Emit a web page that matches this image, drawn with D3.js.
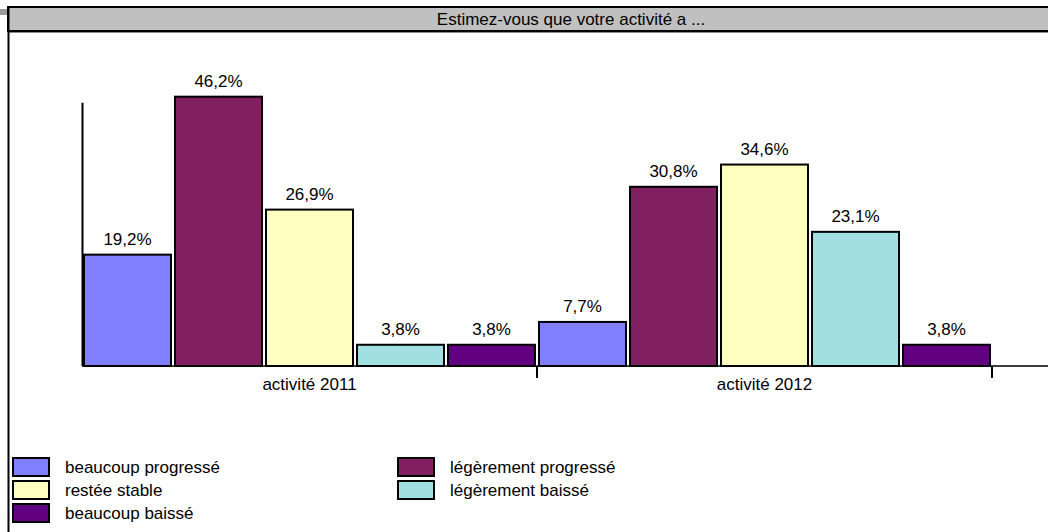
<!DOCTYPE html>
<html><head><meta charset="utf-8">
<script src="https://cdn.jsdelivr.net/npm/d3@7"></script>
<style>html,body{margin:0;padding:0;background:#fff;}svg{display:block;font-family:Arial,"Liberation Sans",sans-serif;}</style>
</head><body>
<svg id="c" width="1048" height="532"></svg>
<script>
const title = "Estimez-vous que votre activité a ...";
const categories = ["activité 2011", "activité 2012"];
const seriesNames = ["beaucoup progressé", "légèrement progressé", "restée stable", "légèrement baissé", "beaucoup baissé"];
const seriesColors = ["#8080FF", "#802060", "#FFFFC0", "#A0E0E0", "#600080"];
const values2011 = [19.2, 46.2, 26.9, 3.8, 3.8];
const values2012 = [7.7, 30.8, 34.6, 23.1, 3.8];
const valuesByCategory = [values2011, values2012];
const yMax = 45;

const svg = d3.select("#c");
const fmt = v => d3.format(".1f")(v).replace(".", ",") + "%";

// frame
svg.append("rect").attr("x", 0).attr("y", 9).attr("width", 8).attr("height", 6).attr("fill", "#999");
svg.append("rect").attr("x", 8).attr("y", 7).attr("width", 1100).attr("height", 24)
  .attr("fill", "#C0C0C0").attr("stroke", "#000").attr("stroke-width", 2);
svg.append("line").attr("x1", 8).attr("x2", 1048).attr("y1", 32.5).attr("y2", 32.5).attr("stroke", "#888").attr("stroke-width", 1);
svg.append("line").attr("x1", 8.5).attr("x2", 8.5).attr("y1", 6).attr("y2", 532).attr("stroke", "#000").attr("stroke-width", 2);
svg.append("text").attr("x", 571).attr("y", 25).attr("text-anchor", "middle")
  .attr("font-size", 17).attr("fill", "#000").text(title);

const x0 = d3.scaleBand().domain(categories).range([82, 992]).paddingInner(0).paddingOuter(0);
const x1 = d3.scaleBand().domain(seriesNames).range([0, x0.bandwidth()]);
const y = d3.scaleLinear().domain([0, yMax]).range([366, 102.7]);

// bars
categories.forEach((cat, ci) => {
  const g = svg.append("g");
  seriesNames.forEach((s, si) => {
    const v = valuesByCategory[ci][si];
    const bx = x0(cat) + x1(s) + 2;
    g.append("rect").attr("x", bx).attr("y", y(v) + 1)
      .attr("width", x1.bandwidth() - 4).attr("height", y(0) - y(v) - 1)
      .attr("fill", seriesColors[si]).attr("stroke", "#000").attr("stroke-width", 2);
    g.append("text").attr("x", bx + (x1.bandwidth() - 4) / 2).attr("y", y(v) - 8.5)
      .attr("text-anchor", "middle").attr("font-size", 17).attr("fill", "#000").text(fmt(v));
  });
});

// axes
svg.append("line").attr("x1", 82.5).attr("x2", 82.5).attr("y1", y(yMax)).attr("y2", y(0))
  .attr("stroke", "#000").attr("stroke-width", 2);
svg.append("line").attr("x1", 82).attr("x2", 1048).attr("y1", y(0)).attr("y2", y(0))
  .attr("stroke", "#000").attr("stroke-width", 1.5);
const xAxis = d3.axisBottom(x0).tickSize(0).tickPadding(0);
const ax = svg.append("g").attr("transform", `translate(0,${y(0)})`).call(xAxis);
ax.select(".domain").remove();
ax.selectAll("text").attr("font-size", 17).attr("font-family", "Arial, 'Liberation Sans', sans-serif")
  .attr("fill", "#000").attr("dy", null).attr("y", 24);
categories.forEach(cat => {
  svg.append("line").attr("x1", x0(cat) + x0.bandwidth()).attr("x2", x0(cat) + x0.bandwidth())
    .attr("y1", y(0)).attr("y2", y(0) + 12).attr("stroke", "#000").attr("stroke-width", 2);
});

// legend
const legendCols = [12, 397];
const legendRowY = [457, 480, 503];
seriesNames.forEach((s, i) => {
  const col = i % 2, row = Math.floor(i / 2);
  const lx = legendCols[col], ly = legendRowY[row];
  svg.append("rect").attr("x", lx + 1).attr("y", ly + 1).attr("width", 36).attr("height", 18)
    .attr("fill", seriesColors[i]).attr("stroke", "#000").attr("stroke-width", 2);
  svg.append("text").attr("x", lx + 53).attr("y", ly + 16).attr("font-size", 17)
    .attr("fill", "#000").text(s);
});
</script>
</body></html>
